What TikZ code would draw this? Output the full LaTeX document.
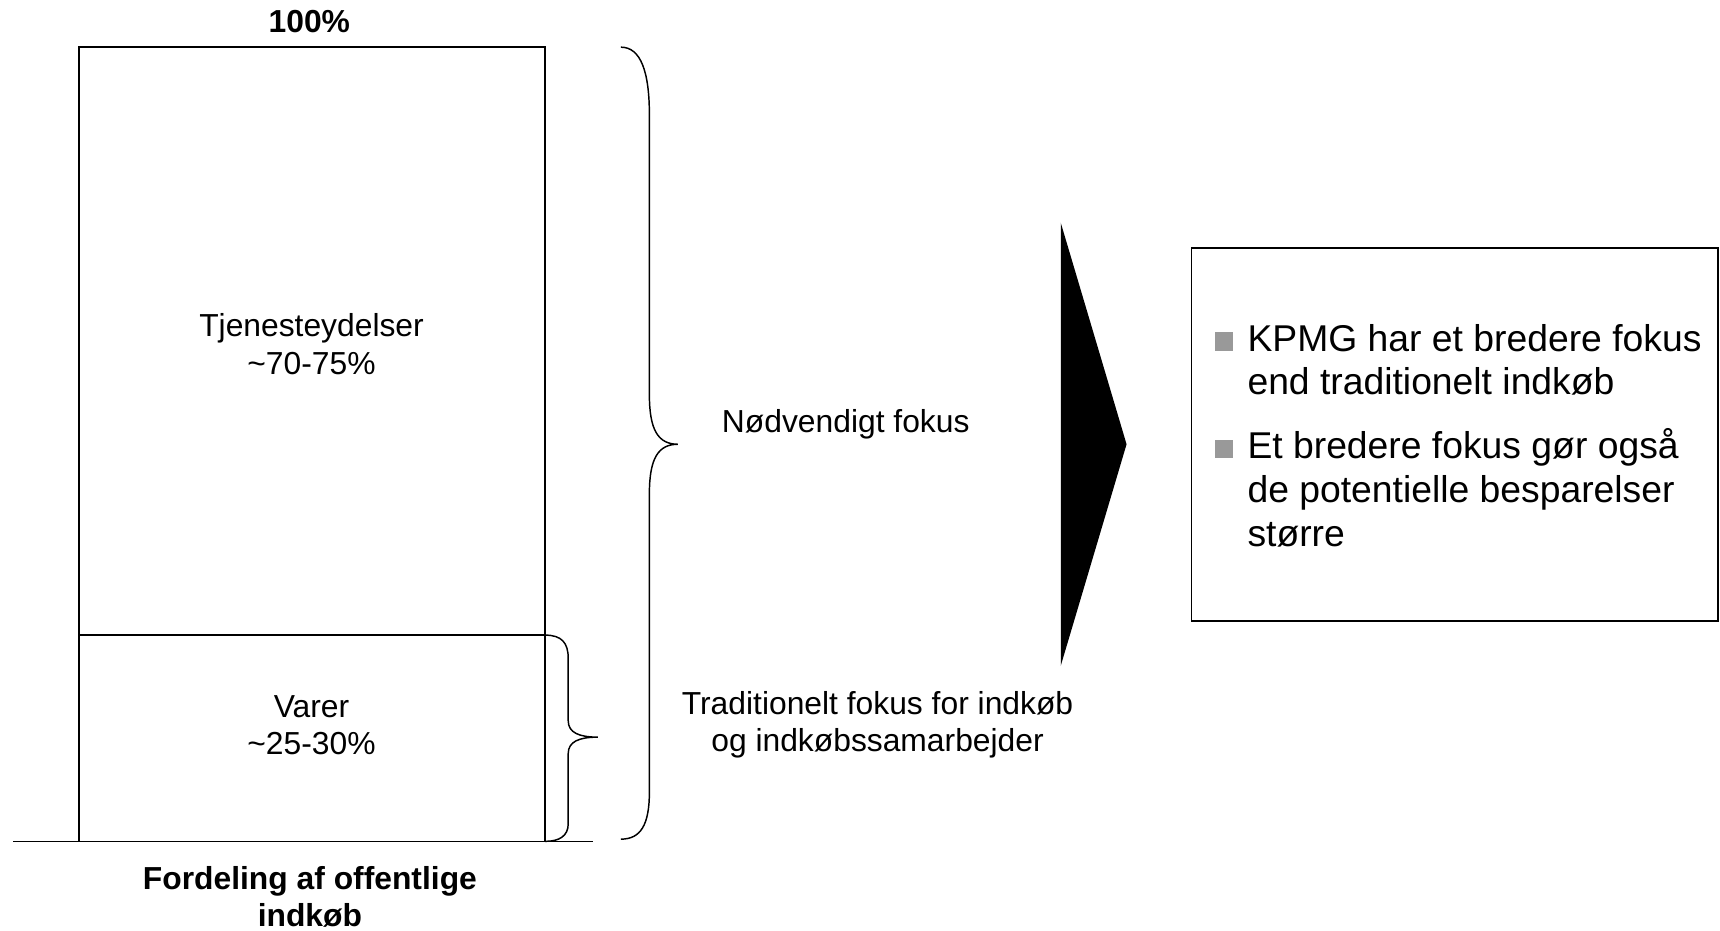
\documentclass[tikz,border=0pt]{standalone}
\usepackage{fontspec}
\setmainfont{Liberation Sans}
\definecolor{bulgray}{RGB}{153,153,153}
\begin{document}
\begin{tikzpicture}[x=0.75pt,y=-0.75pt,
  frame/.style={draw=black,line width=1pt},
  brace/.style={draw=black,line width=1pt},
  lbl/.style={inner sep=0pt,align=center,font=\fontsize{21.75}{25.5}\selectfont},
  heading/.style={lbl,font=\fontsize{21.75}{25.5}\selectfont\bfseries},
  item/.style={inner sep=0pt,align=left,font=\fontsize{25.5}{30}\selectfont},
  bul/.style={fill=bulgray,draw=none,inner sep=0pt,minimum size=12.75pt}]
\useasboundingbox (0,0) rectangle (1568,848);

% stacked bar: services on top, goods below, resting on the base line
\coordinate (barTL) at (72,43);
\coordinate (barBR) at (497,767);
\coordinate (divL) at (72,579);
\coordinate (divR) at (497,579);
\coordinate (baseL) at (12,767);
\coordinate (baseR) at (541,767);
\draw[frame] (barTL) rectangle (barBR);
\draw[frame] (divL) -- (divR);
\draw[frame] (baseL) -- (baseR);

% multi-line nodes are placed by the baseline of their last line
\node[heading,anchor=base] (total) at (282,30) {100\%};
\node[lbl,anchor=base] (serv) at (284,341) {Tjenesteydelser\\\textasciitilde70-75\%};
\node[lbl,anchor=base] (goods) at (284,688) {Varer\\\textasciitilde25-30\%};
\node[heading,anchor=base] (caption) at (282.5,845) {Fordeling af offentlige\\indkøb};

% small brace around the goods segment
\draw[brace] (divR) .. controls (512,579) and (518,586) .. (518,600)
  -- (518,657) .. controls (518,668) and (528,672) .. (545,672)
  .. controls (528,672) and (518,676) .. (518,687)
  -- (518,751) .. controls (518,762) and (510,767) .. (barBR);

% large brace around the whole bar
\draw[brace] (566,43) .. controls (584,43) and (592,65) .. (592,105)
  -- (592,360) .. controls (592,392) and (600,405) .. (618,405)
  .. controls (600,405) and (592,418) .. (592,450)
  -- (592,722) .. controls (592,752) and (584,765) .. (566,765);

\node[lbl,anchor=base] (need) at (771,394) {Nødvendigt fokus};
\node[lbl,anchor=base] (trad) at (800,685) {Traditionelt fokus for indkøb\\og indkøbssamarbejder};

% black chevron
\coordinate (chevTop) at (967,203);
\coordinate (chevTip) at (1027,405);
\coordinate (chevBot) at (967,607);
\fill[black] (chevTop) -- (chevTip) -- (chevBot) -- cycle;

% conclusion box
\coordinate (boxTL) at (1086,226);
\coordinate (boxBR) at (1566,566);
\draw[frame] (boxTL) rectangle (boxBR);
\node[bul,anchor=south west] (sq1) at (1107,320) {};
\node[item,anchor=base west] (p1) at (1137,360) {KPMG har et bredere fokus\\end traditionelt indkøb};
\node[bul,anchor=south west] (sq2) at (1107,418) {};
\node[item,anchor=base west] (p2) at (1137,498) {Et bredere fokus gør også\\de potentielle besparelser\\større};
\end{tikzpicture}
\end{document}
